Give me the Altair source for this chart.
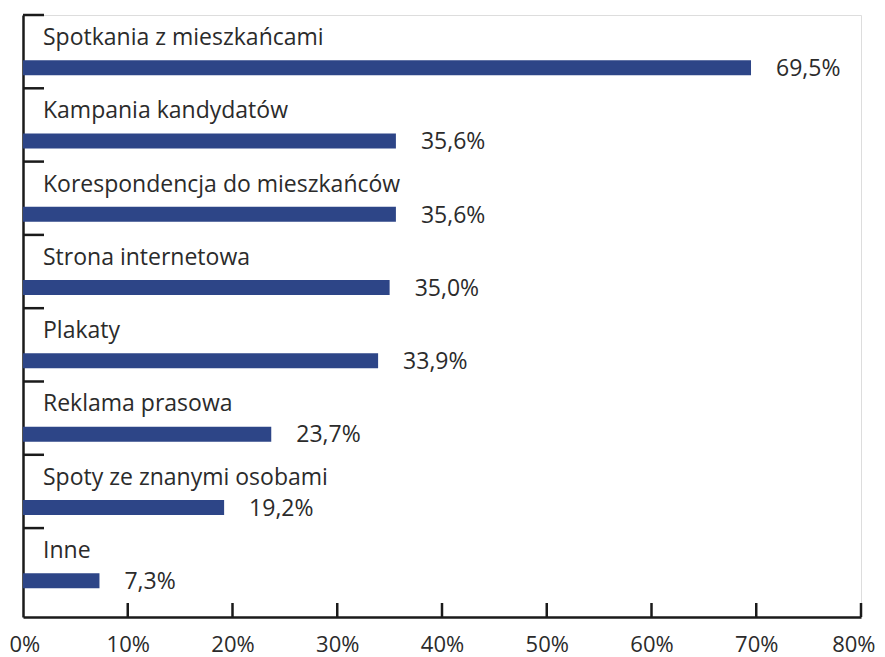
import altair as alt
import pandas as pd

categories = [
    "Spotkania z mieszkańcami",
    "Kampania kandydatów",
    "Korespondencja do mieszkańców",
    "Strona internetowa",
    "Plakaty",
    "Reklama prasowa",
    "Spoty ze znanymi osobami",
    "Inne",
]
values = [69.5, 35.6, 35.6, 35.0, 33.9, 23.7, 19.2, 7.3]
tick_values = [10, 20, 30, 40, 50, 60, 70, 80]

df = pd.DataFrame({
    "cat": categories,
    "val": values,
    "lab": [f"{v:.1f}".replace(".", ",") + "%" for v in values],
})
ticks_df = pd.DataFrame({"t": tick_values})

FONT = "Open Sans"
TXT = "#2b2b2b"
BAR = "#2d4587"
W, H = 838, 602

yscale = alt.Scale(domain=categories, paddingInner=0, paddingOuter=0.1065, align=0)
xscale = alt.Scale(domain=[0, 80], nice=False)

base = alt.Chart(df)

bars = base.mark_bar(color=BAR, height=15, yOffset=16).encode(
    x=alt.X("val:Q", scale=xscale,
            axis=alt.Axis(values=[0, 10, 20, 30, 40, 50, 60, 70, 80],
                          labelExpr="datum.value + '%'", ticks=False, grid=False,
                          domainColor="#1a1a1a", domainWidth=2.5, labelFont=FONT,
                          labelFontSize=22, labelColor=TXT, labelPadding=17,
                          labelFlush=True, labelFlushOffset=14, labelOverlap=False,
                          title=None)),
    y=alt.Y("cat:N", scale=yscale, sort=categories,
            axis=alt.Axis(labels=False, ticks=False, grid=False, domainColor="#1a1a1a",
                          domainWidth=2.5, title=None)),
)

cat_labels = base.mark_text(align="left", baseline="alphabetic", dy=30, font=FONT,
                            fontSize=23, color=TXT).encode(
    x=alt.value(20),
    y=alt.Y("cat:N", scale=yscale, sort=categories, bandPosition=0),
    text="cat:N",
)

val_labels = base.mark_text(align="left", baseline="middle", dx=25, dy=54, font=FONT,
                            fontSize=23, color=TXT).encode(
    x=alt.X("val:Q", scale=xscale),
    y=alt.Y("cat:N", scale=yscale, sort=categories, bandPosition=0),
    text="lab:N",
)

ytick_rules = base.mark_rule(color="#1a1a1a", strokeWidth=2.5).encode(
    x=alt.value(0),
    x2=alt.value(21),
    y=alt.Y("cat:N", scale=yscale, sort=categories, bandPosition=0),
)

xtick_rules = alt.Chart(ticks_df).mark_rule(color="#1a1a1a", strokeWidth=2.5).encode(
    x=alt.X("t:Q", scale=xscale),
    y=alt.value(H - 14),
    y2=alt.value(H),
)

chart = alt.layer(bars, ytick_rules, xtick_rules, cat_labels, val_labels).properties(
    width=W,
    height=H,
    autosize=alt.AutoSizeParams(type="none"),
    padding={"left": 15, "top": 7, "right": 16, "bottom": 40},
).configure_view(stroke=None).configure(background="white")

chart.save("out.html", embed_options={"renderer": "svg", "actions": False})
